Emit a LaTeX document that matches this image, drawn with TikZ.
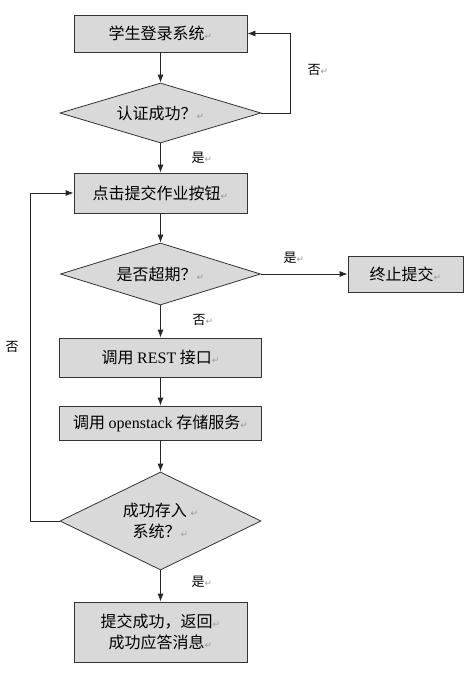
\documentclass[tikz,border=0pt]{standalone}
\usepackage{fontspec}
\setmainfont{Liberation Serif}
\newfontfamily\cjk{Noto Sans CJK SC}
\newfontfamily\arrfont{DejaVu Sans}
\usetikzlibrary{shapes.geometric, arrows.meta}
\newcommand{\crmark}{{\arrfont\color{black!40}\fontsize{9}{9}\selectfont ↵}}
\newcommand{\lat}[1]{{\rmfamily #1}}

\begin{document}
\begin{tikzpicture}[x=1pt, y=-1pt, thick, >={Latex[length=8pt,width=6pt]},
  font=\cjk\fontsize{16}{21}\selectfont]
\tikzset{
  box/.style={draw=black!80, fill=black!15, inner sep=0pt, align=center},
  choice/.style={diamond, draw=black!80, fill=black!15, inner sep=0pt,
    aspect=3, align=center},
  lbl/.style={font=\cjk\fontsize{13}{15}\selectfont, inner sep=0pt},
  line/.style={draw=black!85}
}
\useasboundingbox (0,0) rectangle (464,673);
% boxes
\node[box, minimum width=173pt, minimum height=37pt] (login) at (160.5,33.5){学生登录系统\crmark};
\node[choice, minimum width=201pt, minimum height=60pt] (auth) at (160.5,113){认证成功？\crmark};
\node[box, minimum width=173pt, minimum height=40pt] (click) at (160.5,193){点击提交作业按钮\crmark};
\node[choice, minimum width=200pt, minimum height=62pt] (late) at (160.5,274){是否超期？\crmark};
\node[box, minimum width=115pt, minimum height=36pt] (stop) at (405.5,274){终止提交\crmark};
\node[box, minimum width=202pt, minimum height=39pt] (rest) at (160.5,357.5){调用 \lat{REST} 接口\crmark};
\node[box, minimum width=202pt, minimum height=34pt] (store) at (160.5,423){调用 \lat{openstack} 存储服务\crmark};
\node[choice, minimum width=201pt, minimum height=98pt] (saved) at (160.5,521){成功存入\ \crmark\\系统？\crmark};
\node[box, minimum width=173pt, minimum height=60pt] (done) at (160.5,632){提交成功，返回\crmark\\成功应答消息\crmark};
% connectors
\draw[line, ->] (login) -- (auth);
\draw[line, ->] (auth.east) -- ++(29,0) |- (login.east);
\draw[line, ->] (auth) -- (click);
\draw[line, ->] (click) -- (late);
\draw[line, ->] (late) -- (stop);
\draw[line, ->] (late) -- (rest);
\draw[line, ->] (rest) -- (store);
\draw[line, ->] (store) -- (saved);
\draw[line, ->] (saved.west) -- ++(-29,0) |- (click.west);
\draw[line, ->] (saved) -- (done);
% labels
\node[lbl] (no1) at (318,70){否\crmark};
\node[lbl] (yes1) at (202,158){是\crmark};
\node[lbl] (yes2) at (294,258){是\crmark};
\node[lbl] (no2) at (203,320){否\crmark};
\node[lbl] (no3) at (12,347){否};
\node[lbl] (yes3) at (202,582){是\crmark};
\end{tikzpicture}
\end{document}
